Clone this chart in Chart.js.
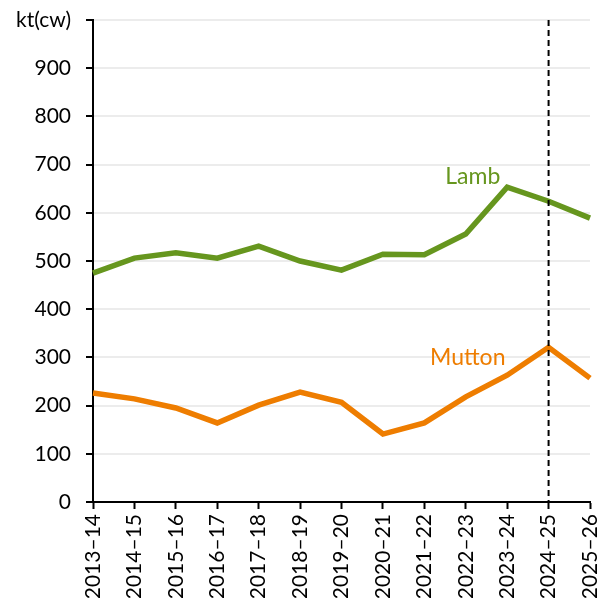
<!DOCTYPE html>
<html>
<head>
<meta charset="utf-8">
<script src="https://cdn.jsdelivr.net/npm/chart.js@4"></script>
<style>
  html, body { margin: 0; padding: 0; background: #fff; overflow: hidden; }
  #box { width: 598px; height: 598px; }
</style>
</head>
<body>
<div id="box"><canvas id="myChart" width="598" height="598"></canvas></div>
<script>
const years = ['2013–14', '2014–15', '2015–16', '2016–17', '2017–18', '2018–19', '2019–20',
  '2020–21', '2021–22', '2022–23', '2023–24', '2024–25', '2025–26'];
const lamb = [475, 506, 517, 506, 531, 500, 481, 514, 513, 556, 653, 624, 589];
const mutton = [226, 214, 195, 164, 201, 228, 207, 141, 164, 218, 263, 321, 257];
const yTicks = [0, 100, 200, 300, 400, 500, 600, 700, 800, 900, 1000];
const forecastFrom = '2024–25';

const green = '#66961e';
const orange = '#ee7d00';
const font = 'Lato, "Open Sans", sans-serif';

// dashed marker plus the series names written next to the lines
const extras = {
  id: 'extras',
  afterDatasetsDraw(chart) {
    const { ctx, chartArea, scales } = chart;
    const x = scales.x.getPixelForValue(years.indexOf(forecastFrom));
    ctx.save();
    ctx.strokeStyle = '#000';
    ctx.lineWidth = 2;
    ctx.setLineDash([6, 4]);
    ctx.beginPath();
    ctx.moveTo(x, chartArea.top);
    ctx.lineTo(x, chartArea.bottom);
    ctx.stroke();
    ctx.setLineDash([]);

    ctx.font = '23px ' + font;
    ctx.textAlign = 'center';
    ctx.textBaseline = 'middle';
    ctx.fillStyle = green;
    ctx.fillText('Lamb', scales.x.getPixelForValue(9) + 7, scales.y.getPixelForValue(676));
    ctx.fillStyle = orange;
    ctx.fillText('Mutton', scales.x.getPixelForValue(9) + 2, scales.y.getPixelForValue(299));
    ctx.restore();
  }
};

const ctx = document.getElementById('myChart');

new Chart(ctx, {
  type: 'line',
  data: {
    labels: years,
    datasets: [
      { label: 'Lamb', data: lamb, borderColor: green, borderWidth: 5.5, pointRadius: 0, tension: 0 },
      { label: 'Mutton', data: mutton, borderColor: orange, borderWidth: 5.5, pointRadius: 0, tension: 0 }
    ]
  },
  options: {
    responsive: false,
    animation: false,
    layout: { padding: { top: 20, right: 8, left: 0, bottom: 0 } },
    plugins: { legend: { display: false }, tooltip: { enabled: false } },
    scales: {
      x: {
        offset: false,
        afterFit: s => { s.height = 96; s.paddingLeft = 0; s.paddingRight = 0; },
        border: { color: '#000', width: 2 },
        grid: { drawOnChartArea: false, tickColor: '#000', tickLength: 7, tickWidth: 2 },
        ticks: {
          color: '#000',
          font: { family: font, size: 21 },
          minRotation: 90,
          maxRotation: 90,
          autoSkip: false,
          padding: 5
        }
      },
      y: {
        min: 0,
        max: 1000,
        afterFit: s => { s.width = 93; s.paddingTop = 0; s.paddingBottom = 0; },
        afterBuildTicks: s => { s.ticks = yTicks.map(v => ({ value: v })); },
        border: { color: '#000', width: 2 },
        grid: { color: '#ececec', lineWidth: 2, tickColor: '#000', tickLength: 7, tickWidth: 2 },
        ticks: {
          color: '#000',
          font: { family: font, size: 21 },
          padding: 15,
          callback: v => v === 1000 ? 'kt(cw)' : v
        }
      }
    }
  },
  plugins: [extras]
});
</script>
</body>
</html>
